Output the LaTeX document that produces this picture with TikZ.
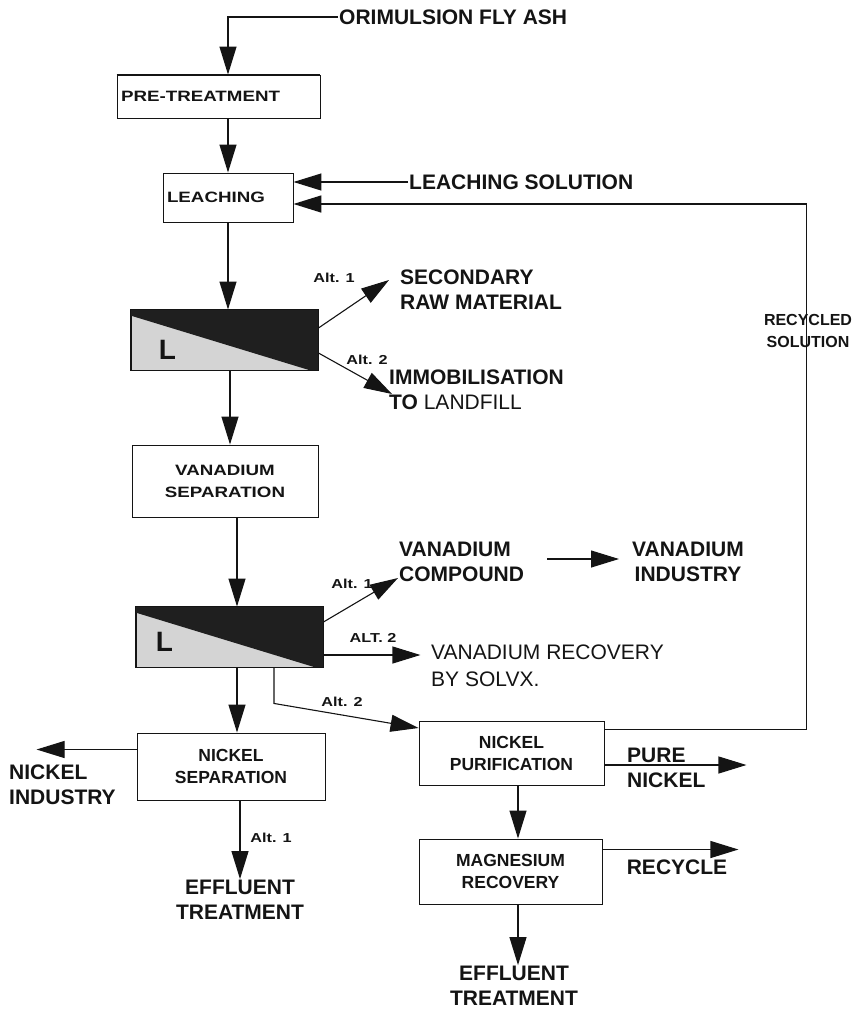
\documentclass[tikz,border=0pt]{standalone}
\usepackage{fontspec}
\setmainfont{Liberation Sans}
\newfontfamily\boxfont[FakeStretch=1.25]{Liberation Sans}
\usetikzlibrary{arrows.meta,positioning}
\definecolor{ink}{RGB}{20,20,20}
\definecolor{shade}{RGB}{212,212,212}
\tikzset{
  >={Triangle[length=28pt,width=17pt]},
  flow/.style={->,line width=1.1pt,draw=ink},
  unit/.style={draw=ink,line width=0.9pt,align=center,inner sep=2pt,text=ink,
    font=\boxfont\fontsize{15}{22}\selectfont\bfseries},
  unit2/.style={draw=ink,line width=0.9pt,align=center,inner sep=2pt,text=ink,
    font=\fontsize{17.5}{22}\selectfont\bfseries},
  sepbox/.style={draw=ink,fill=shade,line width=0.9pt,inner sep=0pt,
    minimum width=187pt,minimum height=60pt},
  big/.style={font=\fontsize{21}{25}\selectfont\bfseries,align=left,inner sep=1pt,text=ink},
  alt/.style={font=\boxfont\fontsize{13}{15}\selectfont\bfseries,inner sep=0pt,text=ink},
  bigL/.style={font=\fontsize{28}{28}\selectfont\bfseries,text=ink,inner sep=0pt},
}
% dark half of a separator
\newcommand{\splitfill}[1]{
  \fill[black!88] (#1.north west) -- (#1.north east) -- (#1.south east)
    -- ([xshift=-8pt]#1.south east) -- ([yshift=-6pt]#1.north west) -- cycle;
  \draw[ink,line width=0.9pt] (#1.north west) rectangle (#1.south east);
}

\begin{document}
\begin{tikzpicture}[x=1pt,y=-1pt]
  \useasboundingbox (0,0) rectangle (863,1012);
  % process units
  \node[unit,text width=195pt,align=left,inner xsep=4pt,minimum height=43pt] (pre) at (218.5,96.5) {PRE-TREATMENT};
  \draw[ink,line width=1.8pt] (pre.north west) -- (pre.north east);
  \node[unit,text width=122pt,align=left,inner xsep=4pt,minimum height=49pt] (leach) at (228,197.5) {LEACHING};
  \node[sepbox] (sep1) at (224.5,340) {};
  \splitfill{sep1}
  \node[bigL] (sep1L) at ([xshift=37pt,yshift=-10pt]sep1.west) {L};
  \node[unit,minimum width=186pt,minimum height=72pt] (vsep) at (225,481) {VANADIUM\\SEPARATION};
  \node[sepbox] (sep2) at (229.5,637) {};
  \splitfill{sep2}
  \node[bigL] (sep2L) at ([xshift=29pt,yshift=-5pt]sep2.west) {L};
  \node[unit2,minimum width=188pt,minimum height=67pt] (nisep) at (231,766.5) {NICKEL\\SEPARATION};
  \node[unit2,minimum width=185pt,minimum height=64pt] (nipur) at (511.5,753) {NICKEL\\PURIFICATION};
  \node[unit2,minimum width=183pt,minimum height=65pt] (mgrec) at (510.5,871.5) {MAGNESIUM\\RECOVERY};

  % streams
  \node[big,anchor=west] (fly) at (338,17) {ORIMULSION FLY ASH};
  \node[big,anchor=west] (lsol) at (408,182) {LEACHING SOLUTION};
  \node[big,anchor=west] (sec) at (399,290) {SECONDARY\\RAW MATERIAL};
  \node[big,anchor=west] (immob) at (388,390) {IMMOBILISATION\\TO \textmd{LANDFILL}};
  \node[big,anchor=west] (vcomp) at (398,562) {VANADIUM\\COMPOUND};
  \node[big,align=center] (vind) at (688,562) {VANADIUM\\INDUSTRY};
  \node[big,anchor=west,font=\fontsize{21}{27}\selectfont\mdseries] (vrec) at (430,666) {VANADIUM RECOVERY\\BY SOLVX.};
  \node[big,anchor=west] (niind) at (8,785) {NICKEL\\INDUSTRY};
  \node[big,align=center] (eff1) at (240,900) {EFFLUENT\\TREATMENT};
  \node[big,anchor=west] (pure) at (626,768) {PURE\\NICKEL};
  \node[big] (recy) at (677,867) {RECYCLE};
  \node[big,align=center] (eff2) at (514,986) {EFFLUENT\\TREATMENT};
  \node[big,align=center,font=\fontsize{16}{22}\selectfont\bfseries] (recsol) at (808,331) {RECYCLED\\SOLUTION};

  \node[alt] (a1) at (334,278) {Alt. 1};
  \node[alt] (a2) at (367,360) {Alt. 2};
  \node[alt] (a3) at (352,584) {Alt. 1};
  \node[alt] (a4) at (373,638) {ALT. 2};
  \node[alt] (a5) at (342,702) {Alt. 2};
  \node[alt] (a6) at (271,838) {Alt. 1};

  \draw[flow] (fly.west) -| ([xshift=9.5pt]pre.north);
  \draw[flow] ([xshift=9.5pt]pre.south) -- (leach.north);
  \draw[flow] (lsol.west) -- (lsol.west -| leach.east);
  \draw[flow,line width=1.6pt] ([yshift=-9pt]nipur.north east) -- ++(202,0) |- ([yshift=-6.5pt]leach.east);
  \draw[flow] (leach.south) -- (leach.south |- sep1.north);
  \draw[flow] ([yshift=12pt]sep1.east) -- ([xshift=-10pt,yshift=10pt]sec.west);
  \draw[flow] ([yshift=-13pt]sep1.east) -- ([xshift=4pt,yshift=-4pt]immob.west);
  \draw[flow] ([xshift=5.5pt]sep1.south) -- ([xshift=5pt]vsep.north);
  \draw[flow] ([xshift=12pt]vsep.south) -- ([xshift=7.5pt]sep2.north);
  \draw[flow] ([yshift=15pt]sep2.east) -- ([yshift=-16pt]vcomp.west);
  \draw[flow] ([xshift=22pt,yshift=3pt]vcomp.east) -- ([xshift=-12pt,yshift=3pt]vind.west);
  \draw[flow] ([yshift=-18pt]sep2.east) -- ++(97,0);
  \draw[flow] ([xshift=44.5pt]sep2.south) -- ++(0,36) -- ([yshift=25pt]nipur.west);
  \draw[flow] ([xshift=7.5pt]sep2.south) -- ([xshift=6pt]nisep.north);
  \draw[flow] ([yshift=17pt]nisep.west) -- ++(-100,0);
  \draw[flow] ([xshift=9pt]nisep.south) -- (eff1.north);
  \draw[flow] ([yshift=-12pt]nipur.east) -- ++(142,0);
  \draw[flow] ([xshift=6.5pt]nipur.south) -- ([xshift=7.5pt]mgrec.north);
  \draw[flow] ([yshift=22pt]mgrec.east) -- ++(136,0);
  \draw[flow] ([xshift=7.5pt]mgrec.south) -- ([xshift=4pt]eff2.north);
\end{tikzpicture}
\end{document}
